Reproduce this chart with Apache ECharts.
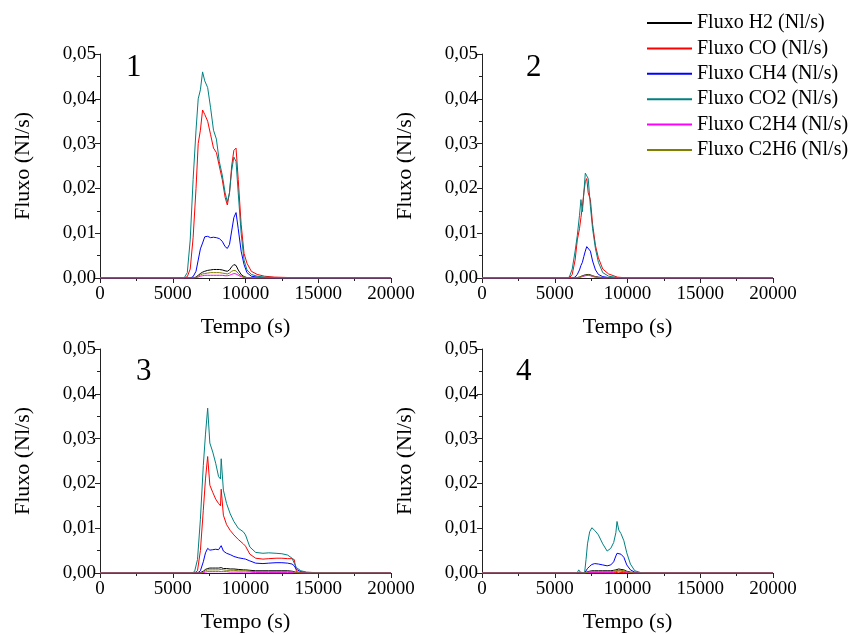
<!DOCTYPE html>
<html>
<head>
<meta charset="utf-8">
<title>Fluxo</title>
<script src="https://cdn.jsdelivr.net/npm/echarts@6/dist/echarts.min.js"></script>
<style>
  html, body { margin: 0; padding: 0; background: #fff; }
  #chart { width: 854px; height: 634px; }
</style>
</head>
<body>
<div id="chart"></div>
<script>
// nomes e cores das séries
var gases = ['Fluxo H2 (Nl/s)', 'Fluxo CO (Nl/s)', 'Fluxo CH4 (Nl/s)', 'Fluxo CO2 (Nl/s)', 'Fluxo C2H4 (Nl/s)', 'Fluxo C2H6 (Nl/s)'];
var cores = ['#000000', '#ff0000', '#0000ff', '#008080', '#ff00ff', '#808000'];
var painéis = ['1', '2', '3', '4'];

// ensaio 1
var t1 = [0, 5500, 5800, 6000, 6200, 6400, 6600, 6750, 6900, 7050, 7200, 7400, 7600, 7800, 8000, 8200, 8400, 8600, 8750, 8900, 9050, 9200, 9350, 9500, 9700, 9900, 10100, 10400, 10800, 11300, 12000, 13000, 20000];
var h2_1 = [0, 0, 0, 0, 0, 0, 0.0002, 0.0006, 0.001, 0.0013, 0.0015, 0.0017, 0.0018, 0.0019, 0.0019, 0.0019, 0.0018, 0.0016, 0.0015, 0.0018, 0.0025, 0.003, 0.0028, 0.0018, 0.0008, 0.0003, 0.0001, 0, 0, 0, 0, 0, 0];
var co_1 = [0, 0, 0, 0.0003, 0.002, 0.009, 0.020, 0.030, 0.033, 0.0375, 0.0365, 0.035, 0.032, 0.029, 0.028, 0.025, 0.022, 0.018, 0.0163, 0.019, 0.025, 0.0285, 0.029, 0.022, 0.012, 0.0055, 0.0033, 0.0015, 0.0008, 0.0004, 0.0002, 0.0001, 0];
var ch4_1 = [0, 0, 0, 0, 0, 0.0003, 0.0015, 0.004, 0.0065, 0.0078, 0.0092, 0.0093, 0.009, 0.0091, 0.009, 0.0088, 0.0082, 0.007, 0.0066, 0.0075, 0.0105, 0.0135, 0.0146, 0.011, 0.006, 0.003, 0.0012, 0.0004, 0.0002, 0.0001, 0, 0, 0];
var co2_1 = [0, 0, 0.0001, 0.0012, 0.0085, 0.022, 0.033, 0.040, 0.042, 0.046, 0.044, 0.0425, 0.038, 0.033, 0.031, 0.026, 0.023, 0.019, 0.017, 0.019, 0.024, 0.027, 0.026, 0.019, 0.010, 0.004, 0.0018, 0.0008, 0.0004, 0.0002, 0.0001, 0, 0];
var c2h4_1 = [0, 0, 0, 0, 0, 0, 0.0001, 0.0002, 0.0004, 0.0005, 0.0006, 0.0006, 0.0006, 0.0006, 0.0006, 0.0006, 0.0006, 0.0005, 0.0005, 0.0006, 0.0008, 0.001, 0.0009, 0.0006, 0.0003, 0.0001, 0, 0, 0, 0, 0, 0, 0];
var c2h6_1 = [0, 0, 0, 0, 0, 0, 0.0001, 0.0004, 0.0007, 0.0009, 0.001, 0.0011, 0.0012, 0.0012, 0.0012, 0.0012, 0.0011, 0.001, 0.0009, 0.0011, 0.0015, 0.0017, 0.0016, 0.001, 0.0005, 0.0002, 0.0001, 0, 0, 0, 0, 0, 0];

// ensaio 2
var t2 = [0, 5800, 6000, 6200, 6400, 6550, 6700, 6800, 6900, 7000, 7100, 7200, 7300, 7450, 7600, 7800, 8000, 8300, 8700, 9300, 10000, 20000];
var h2_2 = [0, 0, 0, 0, 0, 0.0001, 0.0002, 0.0004, 0.0005, 0.0006, 0.0007, 0.0008, 0.0008, 0.0007, 0.0005, 0.0003, 0.0002, 0.0001, 0, 0, 0, 0];
var co_2 = [0, 0, 0, 0.0008, 0.004, 0.0085, 0.011, 0.0135, 0.016, 0.019, 0.0215, 0.0222, 0.019, 0.0175, 0.012, 0.0072, 0.0045, 0.002, 0.0009, 0.0002, 0, 0];
var ch4_2 = [0, 0, 0, 0, 0.0002, 0.0008, 0.0018, 0.0028, 0.0035, 0.0048, 0.006, 0.007, 0.0072, 0.006, 0.0038, 0.0018, 0.0008, 0.0003, 0.0001, 0, 0, 0];
var co2_2 = [0, 0, 0.0002, 0.002, 0.006, 0.0095, 0.014, 0.0175, 0.0148, 0.019, 0.0234, 0.0228, 0.0222, 0.016, 0.011, 0.0065, 0.0035, 0.0012, 0.0004, 0.0001, 0, 0];
var c2h4_2 = [0, 0, 0, 0, 0, 0, 0.0001, 0.0002, 0.0003, 0.0004, 0.0005, 0.0006, 0.0006, 0.0005, 0.0003, 0.0002, 0.0001, 0, 0, 0, 0, 0];
var c2h6_2 = [0, 0, 0, 0, 0, 0.0001, 0.0002, 0.0003, 0.0004, 0.0005, 0.0006, 0.0007, 0.0007, 0.0006, 0.0004, 0.0002, 0.0001, 0, 0, 0, 0, 0];

// ensaio 3
var t3 = [0, 6300, 6500, 6700, 6900, 7100, 7250, 7400, 7550, 7750, 7950, 8150, 8280, 8330, 8480, 8700, 8950, 9200, 9500, 9850, 10000, 10300, 10700, 11200, 11600, 11700, 12100, 12500, 12900, 13200, 13350, 13500, 13800, 14200, 14700, 20000];
var h2_3 = [0, 0, 0, 0, 0.0001, 0.0004, 0.0008, 0.001, 0.0011, 0.0011, 0.0011, 0.0011, 0.0011, 0.0012, 0.001, 0.001, 0.0009, 0.0009, 0.0008, 0.0007, 0.0007, 0.0006, 0.0005, 0.0005, 0.0005, 0.0005, 0.0005, 0.0005, 0.0005, 0.0004, 0.0003, 0.0001, 0, 0, 0, 0];
var co_3 = [0, 0, 0, 0.0005, 0.005, 0.014, 0.021, 0.026, 0.0196, 0.018, 0.0165, 0.0155, 0.015, 0.0187, 0.0129, 0.0108, 0.0095, 0.0085, 0.0075, 0.0065, 0.006, 0.0042, 0.0033, 0.0031, 0.0032, 0.0035, 0.0033, 0.0033, 0.0032, 0.0032, 0.003, 0.0003, 0.0001, 0, 0, 0];
var ch4_3 = [0, 0, 0, 0, 0.0005, 0.0025, 0.0045, 0.0055, 0.0051, 0.0052, 0.0053, 0.0052, 0.0051, 0.0061, 0.0049, 0.0044, 0.0041, 0.0037, 0.0034, 0.0032, 0.0031, 0.0027, 0.0022, 0.0021, 0.0022, 0.0023, 0.0023, 0.0023, 0.0022, 0.002, 0.0016, 0.0008, 0.0003, 0.0001, 0, 0];
var co2_3 = [0, 0, 0.0003, 0.003, 0.012, 0.024, 0.031, 0.0368, 0.029, 0.027, 0.0245, 0.0215, 0.021, 0.0255, 0.0185, 0.0155, 0.0132, 0.0115, 0.0100, 0.0092, 0.0085, 0.0058, 0.0046, 0.0044, 0.0045, 0.0048, 0.0044, 0.0043, 0.004, 0.0033, 0.0022, 0.0012, 0.0005, 0.0002, 0.0001, 0];
var c2h4_3 = [0, 0, 0, 0, 0, 0.0001, 0.0002, 0.0003, 0.0003, 0.0003, 0.0003, 0.0003, 0.0003, 0.0003, 0.0003, 0.0003, 0.0002, 0.0002, 0.0002, 0.0002, 0.0002, 0.0002, 0.0001, 0.0001, 0.0001, 0.0001, 0.0001, 0.0001, 0.0001, 0.0001, 0.0001, 0, 0, 0, 0, 0];
var c2h6_3 = [0, 0, 0, 0, 0, 0.0002, 0.0005, 0.0007, 0.0007, 0.0007, 0.0007, 0.0007, 0.0007, 0.0008, 0.0007, 0.0006, 0.0006, 0.0006, 0.0005, 0.0005, 0.0005, 0.0004, 0.0003, 0.0003, 0.0003, 0.0003, 0.0003, 0.0003, 0.0003, 0.0003, 0.0002, 0.0001, 0, 0, 0, 0];

// ensaio 4
var t4 = [0, 6400, 6550, 6650, 6750, 7050, 7150, 7250, 7400, 7550, 7750, 8000, 8300, 8600, 8850, 9050, 9200, 9280, 9400, 9550, 9750, 9950, 10200, 10500, 10900, 11500, 20000];
var h2_4 = [0, 0, 0, 0, 0, 0, 0.0001, 0.0003, 0.0004, 0.0005, 0.0005, 0.0005, 0.0005, 0.0005, 0.0005, 0.0006, 0.0007, 0.0008, 0.0009, 0.0008, 0.0007, 0.0004, 0.0002, 0.0001, 0, 0, 0];
var co_4 = [0, 0, 0, 0, 0, 0, 0, 0, 0.0001, 0.0001, 0.0001, 0.0001, 0.0001, 0.0001, 0.0001, 0.0001, 0.0001, 0.0002, 0.0002, 0.0001, 0.0001, 0.0001, 0, 0, 0, 0, 0];
var ch4_4 = [0, 0, 0, 0, 0, 0, 0.0004, 0.001, 0.0015, 0.0019, 0.0021, 0.002, 0.0018, 0.0016, 0.0018, 0.0025, 0.0038, 0.0044, 0.0045, 0.0042, 0.0035, 0.0018, 0.0007, 0.0002, 0, 0, 0];
var co2_4 = [0, 0, 0.0001, 0.0007, 0.0002, 0, 0.003, 0.0065, 0.0092, 0.0101, 0.0095, 0.0085, 0.0065, 0.0049, 0.0055, 0.0068, 0.009, 0.0115, 0.0096, 0.0088, 0.0072, 0.0045, 0.002, 0.0005, 0.0001, 0, 0];
var c2h4_4 = [0, 0, 0, 0, 0, 0, 0, 0.0001, 0.0001, 0.0001, 0.0001, 0.0001, 0.0001, 0.0001, 0.0001, 0.0002, 0.0003, 0.0004, 0.0005, 0.0004, 0.0003, 0.0002, 0.0001, 0, 0, 0, 0];
var c2h6_4 = [0, 0, 0, 0, 0, 0, 0.0001, 0.0002, 0.0003, 0.0003, 0.0003, 0.0003, 0.0003, 0.0003, 0.0003, 0.0004, 0.0005, 0.0006, 0.0006, 0.0006, 0.0005, 0.0003, 0.0001, 0, 0, 0, 0];

var tempos = [t1, t2, t3, t4];
var valores = [
  [h2_1, co_1, ch4_1, co2_1, c2h4_1, c2h6_1],
  [h2_2, co_2, ch4_2, co2_2, c2h4_2, c2h6_2],
  [h2_3, co_3, ch4_3, co2_3, c2h4_3, c2h6_3],
  [h2_4, co_4, ch4_4, co2_4, c2h4_4, c2h6_4]
];

var fonte = "'Liberation Serif', 'Times New Roman', serif";
var posGrid = [
  { left: 100, top: 54 },
  { left: 482, top: 54 },
  { left: 100, top: 349 },
  { left: 482, top: 349 }
];
var posNum = [[126, 52], [526, 52], [136, 356], [516, 356]];

var grids = [], xAxes = [], yAxes = [], series = [], titulos = [];

posGrid.forEach(function(p, i) {
  grids.push({ left: p.left, top: p.top, width: 291, height: 224 });
  xAxes.push({
    type: 'value', gridIndex: i, min: 0, max: 20000, interval: 5000,
    name: 'Tempo (s)', nameLocation: 'middle', nameGap: 38,
    nameTextStyle: { fontFamily: fonte, fontSize: 22, color: '#000' },
    axisLine: { lineStyle: { color: '#222', width: 1 } },
    axisTick: { inside: false, length: 5, lineStyle: { color: '#222' } },
    minorTick: { show: true, splitNumber: 2, length: 3, lineStyle: { color: '#222' } },
    splitLine: { show: false },
    axisLabel: { fontFamily: fonte, fontSize: 19, color: '#000', margin: 7,
      formatter: function(v) { return String(v); } }
  });
  yAxes.push({
    type: 'value', gridIndex: i, min: 0, max: 0.05, interval: 0.01,
    name: 'Fluxo (Nl/s)', nameLocation: 'middle', nameGap: 66,
    nameTextStyle: { fontFamily: fonte, fontSize: 22, color: '#000' },
    axisLine: { show: true, lineStyle: { color: '#222', width: 1 } },
    axisTick: { show: true, inside: false, length: 5, lineStyle: { color: '#222' } },
    minorTick: { show: true, splitNumber: 2, length: 3, lineStyle: { color: '#222' } },
    splitLine: { show: false },
    axisLabel: { fontFamily: fonte, fontSize: 19, color: '#000', margin: 4,
      formatter: function(v) { return v.toFixed(2).replace('.', ','); } }
  });
  titulos.push({
    text: painéis[i], left: posNum[i][0], top: posNum[i][1], padding: 0,
    textStyle: { fontFamily: fonte, fontSize: 31, fontWeight: 'normal', color: '#000' }
  });
  gases.forEach(function(g, k) {
    series.push({
      name: g, type: 'line', xAxisIndex: i, yAxisIndex: i,
      symbol: 'none', animation: false,
      lineStyle: { width: 1, color: cores[k] },
      itemStyle: { color: cores[k] },
      data: tempos[i].map(function(t, j) { return [t, valores[i][k][j]]; })
    });
  });
});

var chart = echarts.init(document.getElementById('chart'));
chart.setOption({
  backgroundColor: '#fff',
  animation: false,
  title: titulos,
  legend: {
    data: gases.map(function(g) { return { name: g, icon: 'rect' }; }),
    orient: 'vertical', left: 647, top: 13, padding: 0,
    itemWidth: 45, itemHeight: 2, itemGap: 5.4,
    textStyle: { fontFamily: fonte, fontSize: 20, color: '#000' }
  },
  grid: grids,
  xAxis: xAxes,
  yAxis: yAxes,
  series: series
});
</script>
</body>
</html>
